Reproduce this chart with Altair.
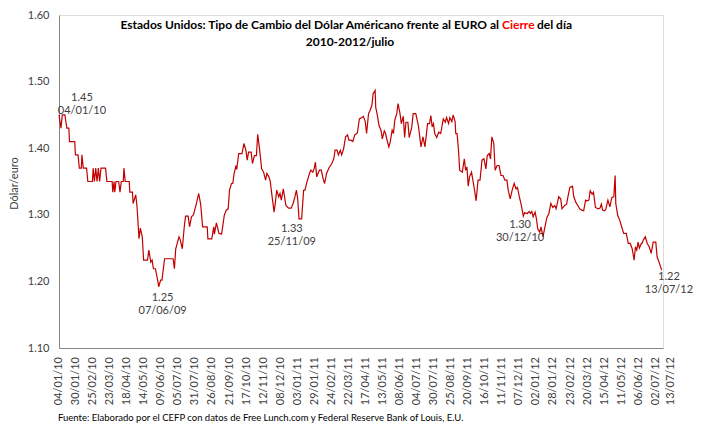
import altair as alt
import pandas as pd

START = "2010-01-04"
days = [0, 3, 5, 9, 12, 15, 16, 24, 25, 29, 31, 34, 35, 37, 42, 44, 51, 52, 54, 56, 58, 60, 62, 64, 71, 73,
        81, 82, 84, 85, 87, 91, 93, 95, 98, 99, 101, 107, 108, 112, 113, 117, 119, 122, 124, 127, 129, 135,
        137, 140, 142, 144, 147, 151, 152, 155, 157, 161, 174, 176, 178, 183, 185, 188, 191, 193, 197, 199,
        202, 205, 209, 213, 216, 219, 226, 227, 233, 236, 237, 240, 244, 248, 252, 255, 258, 260, 263, 265,
        267, 270, 271, 274, 279, 282, 285, 287, 289, 293, 295, 298, 301, 303, 306, 309, 312, 315, 317, 320,
        322, 325, 328, 330, 332, 335, 337, 339, 342, 346, 350, 354, 357, 360, 362, 364, 366, 370, 373, 375,
        378, 382, 384, 387, 389, 391, 393, 397, 400, 402, 405, 408, 412, 416, 419, 421, 424, 426, 429, 431,
        434, 437, 440, 442, 445, 448, 451, 455, 458, 462, 464, 467, 469, 472, 474, 477, 479, 482, 483, 485,
        488, 491, 493, 496, 498, 500, 503, 505, 508, 510, 512, 515, 517, 520, 522, 525, 527, 529, 532, 534,
        538, 540, 544, 548, 552, 555, 558, 562, 565, 567, 569, 571, 573, 576, 579, 582, 586, 589, 591, 594,
        596, 599, 601, 604, 605, 607, 609, 611, 615, 618, 620, 622, 624, 626, 629, 633, 636, 639, 642, 645,
        648, 651, 653, 656, 658, 660, 663, 665, 668, 671, 674, 677, 680, 683, 685, 688, 691, 694, 697, 699,
        702, 705, 708, 710, 714, 717, 719, 721, 723, 726, 728, 730, 733, 735, 738, 741, 744, 747, 750, 753,
        756, 758, 762, 765, 767, 771, 774, 776, 779, 783, 785, 788, 791, 794, 797, 800, 803, 805, 808, 810,
        813, 815, 818, 822, 825, 827, 829, 832, 834, 837, 840, 843, 846, 848, 849, 852, 855, 858, 861, 865,
        868, 871, 874, 877, 879, 881, 883, 885, 888, 889, 891, 894, 897, 900, 903, 906, 910, 912, 915, 919]
values = [1.45, 1.43, 1.45, 1.45, 1.43, 1.43, 1.41, 1.41, 1.39, 1.39, 1.37, 1.37, 1.39, 1.37, 1.37, 1.35,
          1.35, 1.37, 1.35, 1.37, 1.35, 1.37, 1.35, 1.37, 1.37, 1.35, 1.35, 1.334, 1.35, 1.334, 1.35, 1.35,
          1.334, 1.35, 1.35, 1.37, 1.35, 1.35, 1.334, 1.334, 1.317, 1.33, 1.312, 1.264, 1.28, 1.267, 1.232,
          1.232, 1.247, 1.229, 1.232, 1.219, 1.219, 1.199, 1.192, 1.202, 1.202, 1.234, 1.234, 1.219, 1.249,
          1.267, 1.262, 1.249, 1.282, 1.298, 1.298, 1.282, 1.297, 1.30, 1.315, 1.332, 1.316, 1.282, 1.282,
          1.264, 1.264, 1.282, 1.271, 1.288, 1.272, 1.271, 1.299, 1.307, 1.309, 1.337, 1.347, 1.347, 1.362,
          1.374, 1.368, 1.392, 1.392, 1.407, 1.397, 1.382, 1.394, 1.394, 1.377, 1.389, 1.389, 1.421, 1.397,
          1.369, 1.364, 1.352, 1.362, 1.357, 1.351, 1.327, 1.304, 1.319, 1.337, 1.327, 1.332, 1.322, 1.339,
          1.314, 1.31, 1.31, 1.317, 1.328, 1.337, 1.324, 1.294, 1.294, 1.337, 1.337, 1.349, 1.362, 1.367,
          1.364, 1.369, 1.379, 1.357, 1.367, 1.367, 1.357, 1.347, 1.362, 1.371, 1.377, 1.384, 1.397, 1.397,
          1.39, 1.397, 1.39, 1.399, 1.417, 1.42, 1.412, 1.412, 1.41, 1.42, 1.423, 1.444, 1.446, 1.448, 1.44,
          1.422, 1.452, 1.456, 1.464, 1.482, 1.487, 1.461, 1.452, 1.434, 1.427, 1.414, 1.426, 1.422, 1.413,
          1.402, 1.409, 1.427, 1.422, 1.442, 1.452, 1.467, 1.452, 1.437, 1.448, 1.416, 1.439, 1.439, 1.416,
          1.432, 1.452, 1.452, 1.434, 1.402, 1.417, 1.402, 1.437, 1.437, 1.449, 1.432, 1.437, 1.422, 1.416,
          1.424, 1.422, 1.444, 1.439, 1.446, 1.437, 1.446, 1.44, 1.45, 1.44, 1.422, 1.422, 1.399, 1.367,
          1.364, 1.384, 1.367, 1.372, 1.343, 1.357, 1.364, 1.341, 1.321, 1.352, 1.352, 1.382, 1.384, 1.369,
          1.389, 1.392, 1.384, 1.417, 1.407, 1.367, 1.374, 1.374, 1.359, 1.359, 1.352, 1.352, 1.337, 1.324,
          1.337, 1.347, 1.339, 1.341, 1.327, 1.314, 1.298, 1.303, 1.302, 1.305, 1.302, 1.305, 1.297, 1.304,
          1.294, 1.279, 1.274, 1.282, 1.267, 1.282, 1.296, 1.302, 1.317, 1.311, 1.314, 1.309, 1.327, 1.324,
          1.309, 1.314, 1.316, 1.327, 1.341, 1.343, 1.327, 1.319, 1.314, 1.309, 1.307, 1.306, 1.322, 1.321,
          1.322, 1.336, 1.331, 1.334, 1.311, 1.309, 1.31, 1.316, 1.307, 1.306, 1.309, 1.322, 1.312, 1.326,
          1.327, 1.359, 1.317, 1.299, 1.292, 1.282, 1.272, 1.272, 1.257, 1.257, 1.249, 1.232, 1.252, 1.247,
          1.259, 1.25, 1.257, 1.257, 1.262, 1.267, 1.257, 1.252, 1.242, 1.259, 1.259, 1.237, 1.229, 1.217]

tick_labels = ["04/01/10", "30/01/10", "25/02/10", "23/03/10", "18/04/10", "14/05/10", "09/06/10",
               "05/07/10", "31/07/10", "26/08/10", "21/09/10", "17/10/10", "12/11/10", "08/12/10",
               "03/01/11", "29/01/11", "24/02/11", "22/03/11", "17/04/11", "13/05/11", "08/06/11",
               "04/07/11", "30/07/11", "25/08/11", "20/09/11", "16/10/11", "11/11/11", "07/12/11",
               "02/01/12", "28/01/12", "23/02/12", "20/03/12", "15/04/12", "11/05/12", "06/06/12",
               "02/07/12"]
last_label = "13/07/12"
y_ticks = [1.10, 1.20, 1.30, 1.40, 1.50, 1.60]

# annotations: day offset, value position, text
ann_days = [35, 158, 355, 703, 930]
ann_vals = [1.475, 1.175, 1.279, 1.284, 1.206]
ann_text = ["1.45\n04/01/10", "1.25\n07/06/09", "1.33\n25/11/09", "1.30\n30/12/10", "1.22\n13/07/12"]

title_a = "Estados Unidos: Tipo de Cambio del Dólar Américano frente al EURO al"
title_b = "Cierre"
title_c = "del día"
title_2 = "2010-2012/julio"
y_title = "Dólar/euro"
source = "Fuente: Elaborado por el CEFP con datos de Free Lunch.com y Federal Reserve Bank of Louis, E.U."

FONT = "Lato"
GRAY = "#404040"
W, H = 604, 333

start = pd.Timestamp(START)
df = pd.DataFrame({
    "fecha": (start + pd.to_timedelta(days, unit="D")).strftime("%Y-%m-%d"),
    "valor": values,
})
ann = pd.DataFrame({
    "fecha": (start + pd.to_timedelta(ann_days, unit="D")).strftime("%Y-%m-%d"),
    "valor": ann_vals,
    "t": ann_text,
})
ticks_df = pd.DataFrame({
    "fecha": pd.to_datetime(tick_labels, format="%d/%m/%y").strftime("%Y-%m-%d"),
    "t": tick_labels,
})
last_df = pd.DataFrame({
    "fecha": pd.to_datetime([last_label], format="%d/%m/%y").strftime("%Y-%m-%d"),
    "t": [last_label],
})

def ms(s, fmt="%d/%m/%y"):
    return int(pd.to_datetime(s, format=fmt).value // 10**6)

xscale = alt.Scale(type="utc", domain=[ms(tick_labels[0]), ms(last_label)])
yscale = alt.Scale(domain=[1.10, 1.60], nice=False, zero=False)

line = alt.Chart(df).mark_line(color="#C00000", strokeWidth=1.2).encode(
    x=alt.X("fecha:T", scale=xscale, title=None,
            axis=alt.Axis(labels=False, ticks=False, grid=False, domainColor="#868686")),
    y=alt.Y("valor:Q", scale=yscale, title=y_title,
            axis=alt.Axis(values=y_ticks, format=".2f", ticks=False, grid=False, labelPadding=10,
                          domainColor="#868686", labelColor=GRAY, labelFont=FONT,
                          labelFontSize=11, titleFont=FONT, titleFontSize=11,
                          titleFontWeight="normal", titleColor=GRAY,
                          titleX=-40, titleY=168, titleAngle=-90)),
)

xlabels = alt.Chart(ticks_df).mark_text(
    font=FONT, fontSize=11, color=GRAY, angle=270, align="right", baseline="middle"
).encode(x=alt.X("fecha:T", scale=xscale), y=alt.value(H + 9), text="t:N")

last_tick = alt.Chart(last_df).mark_text(
    font=FONT, fontSize=11, color=GRAY, angle=270, align="right", baseline="middle", dy=8
).encode(x=alt.X("fecha:T", scale=xscale), y=alt.value(H + 9), text="t:N")

annot = alt.Chart(ann).mark_text(font=FONT, fontSize=11, color=GRAY, lineBreak="\n",
                                 lineHeight=13, align="center", baseline="middle").encode(
    x=alt.X("fecha:T", scale=xscale), y=alt.Y("valor:Q", scale=yscale), text="t:N")

def label(txt, x, y, align="left", color="#000000", bold=True, size=12):
    return alt.Chart(pd.DataFrame({"t": [txt]})).mark_text(
        font=FONT, fontSize=size, fontWeight="bold" if bold else "normal", color=color,
        align=align, baseline="middle").encode(x=alt.value(x), y=alt.value(y), text="t:N")

t1 = label(title_a, 440, 10, align="right")
t2 = label(title_b, 443, 10, color="#FF0000")
t3 = label(title_c, 478, 10)
t4 = label(title_2, 291, 27, align="center")
foot = label(source, -1, 403, bold=False, size=9.5, color="#000000")

chart = alt.layer(line, xlabels, last_tick, annot, t1, t2, t3, t4, foot).properties(
    width=W, height=H,
    autosize=alt.AutoSizeParams(type="none"),
    padding={"left": 51, "top": 7, "right": 35, "bottom": 78},
).configure_view(stroke=None).configure(background="white")

chart.save("out.html", embed_options={"renderer": "svg", "actions": False})
